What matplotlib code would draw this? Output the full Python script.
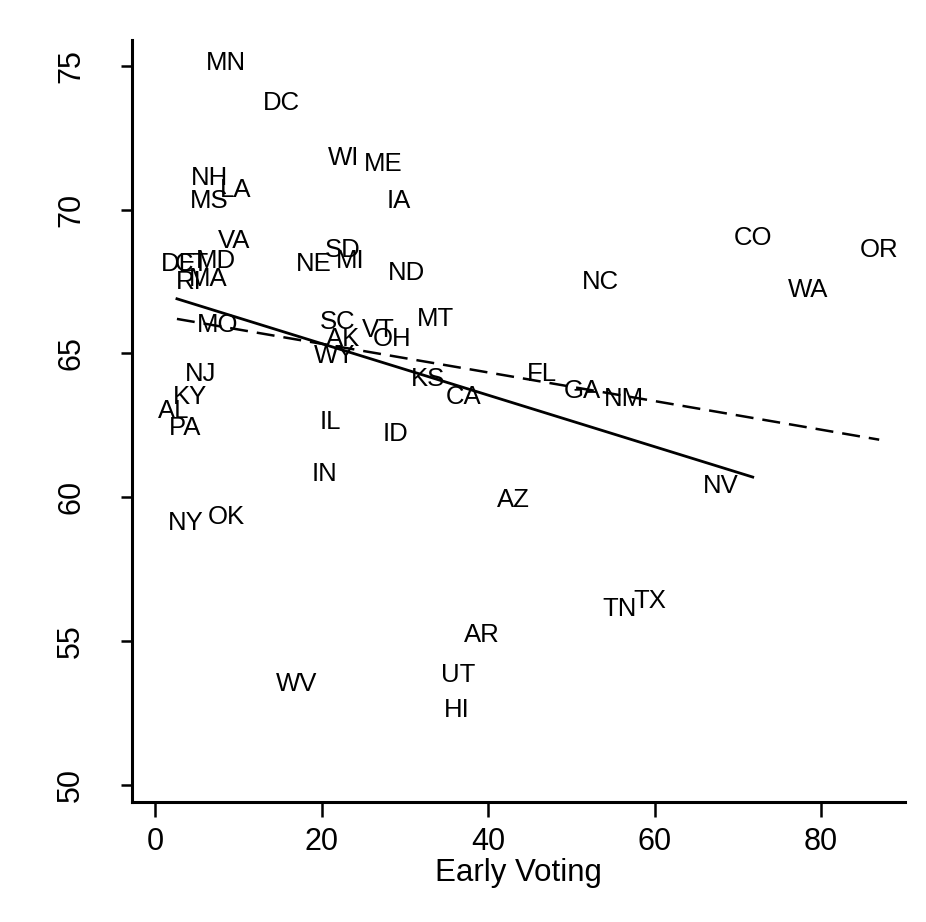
import numpy as np
import matplotlib
matplotlib.use("Agg")
import matplotlib.pyplot as plt

# state labels: early voting % vs turnout
states = ["MN", "DC", "NH", "LA", "MS", "WI", "ME", "IA", "VA", "DE", "CT",
          "MD", "RI", "MA", "NE", "SD", "MI", "ND", "MO", "SC", "AK", "VT",
          "OH", "WY", "MT", "NJ", "KY", "AL", "PA", "IL", "ID", "KS", "CO",
          "OR", "WA", "NC", "FL", "GA", "NM", "CA", "NV", "AZ", "IN", "NY",
          "OK", "TN", "TX", "AR", "UT", "HI", "WV"]
early = [8.5, 15.1, 6.5, 9.6, 6.5, 22.6, 27.4, 29.3, 9.5, 2.8, 4.4,
         7.3, 4.0, 6.4, 19.0, 22.5, 23.4, 30.2, 7.5, 21.9, 22.6, 26.8,
         28.5, 21.6, 33.7, 5.5, 4.2, 2.2, 3.6, 21.0, 28.9, 32.8, 71.8,
         87.0, 78.5, 53.5, 46.5, 51.3, 56.3, 37.0, 67.9, 43.0, 20.3, 3.6,
         8.5, 55.8, 59.4, 39.3, 36.4, 36.2, 17.0]
turnout = [75.1, 73.7, 71.1, 70.7, 70.3, 71.8, 71.6, 70.3, 68.9, 68.1, 68.1,
           68.2, 67.5, 67.6, 68.1, 68.6, 68.2, 67.8, 66.0, 66.1, 65.5, 65.8,
           65.5, 64.9, 66.2, 64.3, 63.5, 63.0, 62.4, 62.6, 62.2, 64.1, 69.0,
           68.6, 67.2, 67.5, 64.3, 63.7, 63.4, 63.5, 60.4, 59.9, 60.8, 59.1,
           59.3, 56.1, 56.4, 55.2, 53.8, 52.6, 53.5]

# fitted lines (end points as drawn)
fit_x = [2.6, 71.8]
fit_y = [66.9, 60.7]
fit2_x = [2.6, 87.0]
fit2_y = [66.2, 62.0]

xticks = [0, 20, 40, 60, 80]
yticks = [50, 55, 60, 65, 70, 75]

plt.rcParams["font.family"] = ["Liberation Sans", "DejaVu Sans"]

fig = plt.figure(figsize=(9.26, 9.22), dpi=100)
ax = fig.add_axes([132 / 926, 120 / 922, 773 / 926, 762 / 922])

for s, x, y in zip(states, early, turnout):
    ax.text(x, y, s, ha="center", va="center", fontsize=18.5)

ax.plot(fit_x, fit_y, color="black", lw=2.0)
ax.plot(fit2_x, fit2_y, color="black", lw=1.8, dashes=(7.2, 3.6))

ax.set_xlim(-2.8, 90.1)
ax.set_ylim(49.4, 75.9)
ax.set_xticks(xticks)
ax.set_yticks(yticks)

ax.spines["top"].set_visible(False)
ax.spines["right"].set_visible(False)
for sp in ["left", "bottom"]:
    ax.spines[sp].set_linewidth(2.2)

ax.tick_params(axis="x", length=11, width=1.8, pad=7, labelsize=22)
ax.tick_params(axis="y", length=8, width=1.8, pad=25, labelsize=22)
for lab in ax.get_yticklabels():
    lab.set_rotation(90)
    lab.set_va("center")

ax.set_xlabel("Early Voting", fontsize=22.5, labelpad=1)

fig.savefig("out.png", dpi=100)
